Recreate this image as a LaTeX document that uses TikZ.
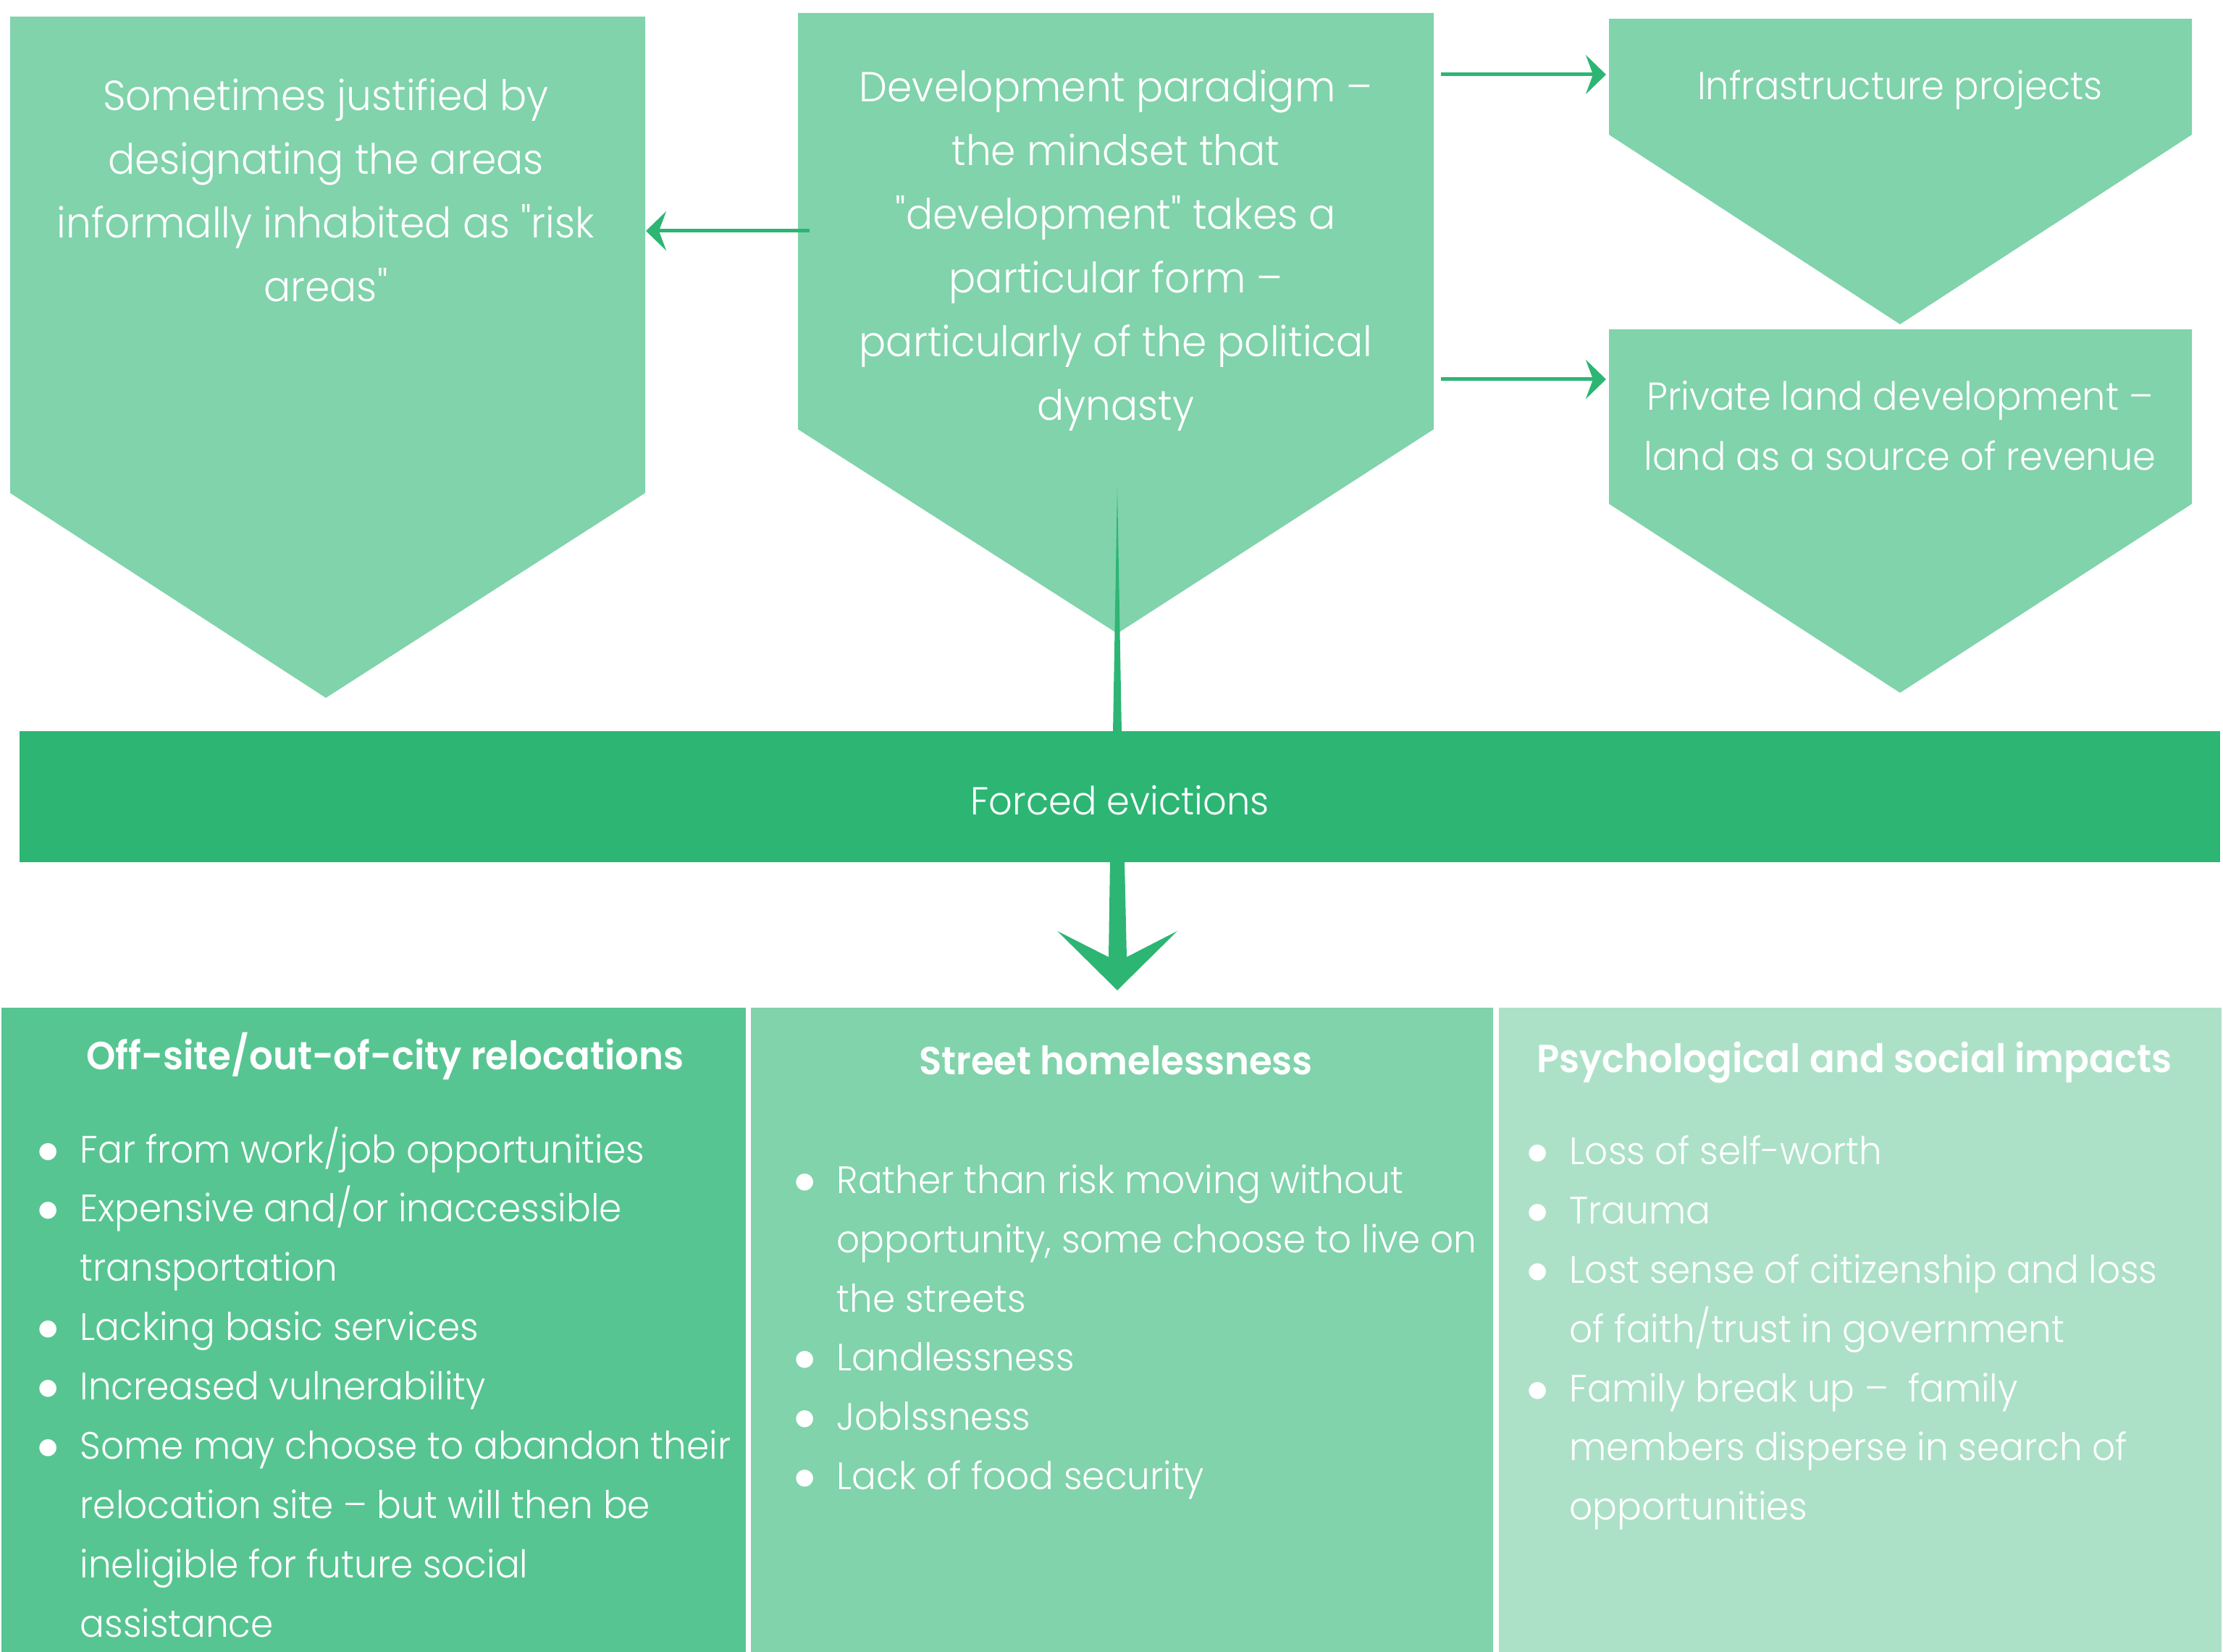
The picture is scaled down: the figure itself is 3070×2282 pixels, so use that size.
\documentclass[tikz,border=0pt]{standalone}
\usepackage{fontspec}
\setmainfont{Poppins}[UprightFont=* Light, BoldFont=* SemiBold, FakeStretch=0.95, Ligatures=TeXOff]
\usetikzlibrary{arrows.meta,calc}

\definecolor{panelgreen}{HTML}{80D3AB}
\definecolor{deepgreen}{HTML}{2DB574}
\definecolor{midgreen}{HTML}{57C592}
\definecolor{palegreen}{HTML}{ACE1C8}

\newcommand{\bul}{\makebox[16.8pt][l]{\scalebox{1.2}{$\bullet$}}}
\newcommand{\ind}{\hspace*{16.8pt}}

\tikzset{
  paneltext/.style={text=white, align=center, inner sep=0pt, font=\fontsize{16.5pt}{25pt}\selectfont},
  sidetext/.style={paneltext, font=\fontsize{15.3pt}{23.4pt}\selectfont},
  boxtitle/.style={text=white, inner sep=0pt, font=\bfseries\fontsize{15.4pt}{23.3pt}\selectfont},
  boxlist/.style={text=white, align=left, inner sep=0pt, anchor=west, font=\fontsize{15pt}{23.3pt}\selectfont},
  thinarrow/.style={draw=deepgreen, line width=0.5mm, -{Stealth[length=2.8mm, width=5.4mm, inset=1mm]}}
}

\begin{document}
\begin{tikzpicture}[x=0.1mm, y=-0.1mm]
	\useasboundingbox (0,0) rectangle (3070,2282);
	% pentagons
	\fill[panelgreen] (14,23) -- (891,23) -- (891,681) -- (450,964) -- (14,681) -- cycle;
	\fill[panelgreen] (1102,18) -- (1980,18) -- (1980,593) -- (1543,875) -- (1102,593) -- cycle;
	\fill[panelgreen] (2222,26) -- (3027,26) -- (3027,186) -- (2624,448) -- (2222,186) -- cycle;
	\fill[panelgreen] (2222,455) -- (3027,455) -- (3027,696) -- (2624,957) -- (2222,696) -- cycle;

	\node[paneltext] (risk) at (450,263) {Sometimes justified by\\designating the areas\\informally inhabited as "risk\\areas"};
	\node[paneltext] (dev) at (1541,346) {Development paradigm –\\the mindset that\\"development" takes a\\particular form –\\particularly of the political\\dynasty};
	\node[sidetext] (infra) at (2624,124) {Infrastructure projects};
	\node[sidetext] (privland) at (2624,588) {Private land development –\\land as a source of revenue};

	% bar
	\node[fill=deepgreen, text=white, minimum width=303.9mm, minimum height=18.1mm, inner sep=0pt,
		text height=14.5pt, font=\fontsize{15.3pt}{25pt}\selectfont] (evict) at (1546.5,1100.5) {Forced evictions};

	% arrows
	\coordinate (devW) at (1118,319);
	\coordinate (riskE) at (892,319);
	\coordinate (devE1) at (1990,103);
	\coordinate (infraW) at (2218,103);
	\coordinate (devE2) at (1990,524);
	\coordinate (landW) at (2218,524);
	\draw[thinarrow] (devW) -- (riskE);
	\draw[thinarrow] (devE1) -- (infraW);
	\draw[thinarrow] (devE2) -- (landW);

	\coordinate (devS) at (1543,673);
	\coordinate (barTop) at (1543,1012);
	\coordinate (barBot) at (1543,1189);
	\coordinate (dropTip) at (1543,1368);
	\fill[deepgreen] (devS) -- ($(barTop)+(6,0)$) -- ($(barTop)+(-6,0)$) -- cycle;
	\fill[deepgreen] ($(barBot)+(-10,0)$) -- ($(barBot)+(10,0)$) -- ($(dropTip)+(13,-46)$)
		-- ($(dropTip)+(83,-82)$) -- (dropTip) -- ($(dropTip)+(-83,-82)$) -- ($(dropTip)+(-12,-46)$) -- cycle;

	% bottom boxes
	\fill[midgreen] (2,1392) rectangle (1030,2282);
	\fill[panelgreen] (1037,1392) rectangle (2062,2282);
	\fill[palegreen] (2070,1392) rectangle (3068,2282);

	\node[boxtitle] (reloc) at (532,1459) {Off-site/out-of-city relocations};
	\node[boxtitle] (homeless) at (1541,1465) {Street homelessness};
	\node[boxtitle] (psych) at (2561,1468) {Psychological and social impacts};

	\node[boxlist] (relocList) at (51,1909) {\bul Far from work/job opportunities\\
		\bul Expensive and/or inaccessible\\
		\ind transportation\\
		\bul Lacking basic services\\
		\bul Increased vulnerability\\
		\bul Some may choose to abandon their\\
		\ind relocation site – but will then be\\
		\ind ineligible for future social\\
		\ind assistance};
	\node[boxlist] (homelessList) at (1096,1840) {\bul Rather than risk moving without\\
		\ind opportunity, some choose to live on\\
		\ind the streets\\
		\bul Landlessness\\
		\bul Joblssness\\
		\bul Lack of food security};
	\node[boxlist] (psychList) at (2108,1841) {\bul Loss of self-worth\\
		\bul Trauma\\
		\bul Lost sense of citizenship and loss\\
		\ind of faith/trust in government\\
		\bul Family break up –\ \ family\\
		\ind members disperse in search of\\
		\ind opportunities};
\end{tikzpicture}
\end{document}
